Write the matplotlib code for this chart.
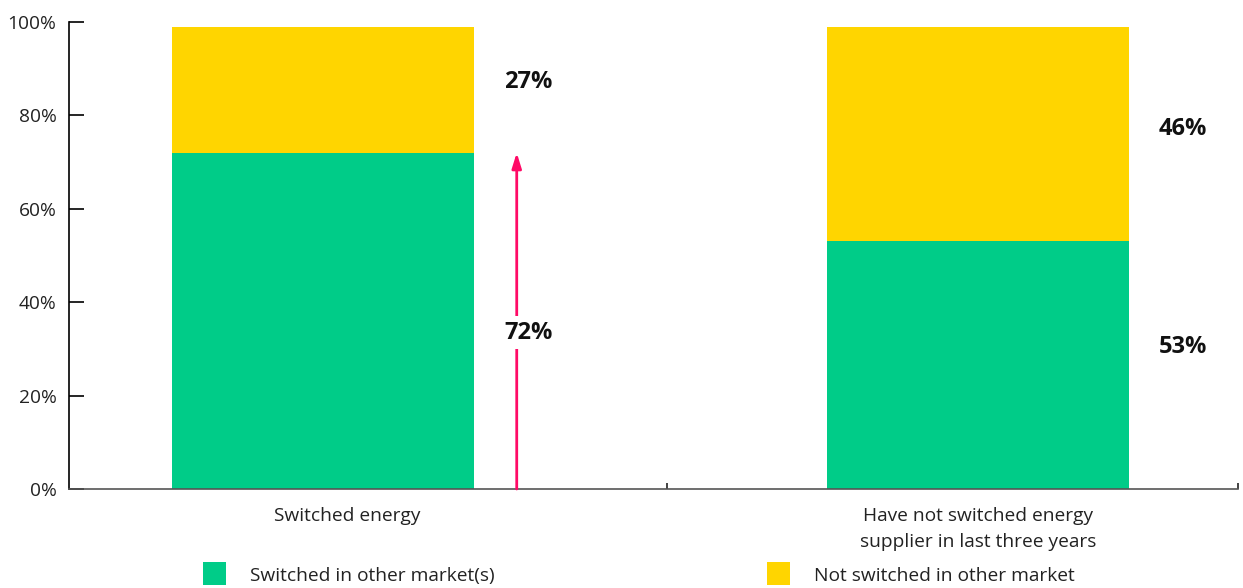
import matplotlib
matplotlib.use("Agg")
import matplotlib.pyplot as plt

categories = ["Switched energy", "Have not switched energy\nsupplier in last three years"]
switched_other = [72, 53]
not_switched_other = [27, 46]
series_names = ["Switched in other market(s)", "Not switched in other market"]
yticks = [0, 20, 40, 60, 80, 100]
ytick_labels = ["0%", "20%", "40%", "60%", "80%", "100%"]

GREEN = "#00CC88"
YELLOW = "#FFD500"
PINK = "#FF0A66"
series_colors = [GREEN, YELLOW]

plt.rcParams["font.family"] = ["Open Sans", "DejaVu Sans"]

W, H = 1243, 588
fig = plt.figure(figsize=(W / 100, H / 100), dpi=100)
ax = fig.add_axes([69 / W, (H - 489) / H, (1238 - 69) / W, (489 - 22) / H])

# bar centres and width in axis units (x range 0..2)
centers = [0.4346, 1.555]
width = 0.5167
ax.bar(centers, switched_other, width=width, color=GREEN, zorder=2)
ax.bar(centers, not_switched_other, width=width, bottom=switched_other, color=YELLOW, zorder=2)

ax.set_xlim(0, 2)
ax.set_ylim(0, 100)

ax.set_yticks(yticks)
ax.set_yticklabels(ytick_labels, fontsize=13.8, color="#222222")
ax.tick_params(axis="y", direction="in", length=11, width=1.2, pad=9, color="black")

ax.set_xticks([1.023, 2.0])
ax.set_xticklabels([])
ax.tick_params(axis="x", direction="in", length=4, width=1.2, color="#222222")

for side in ["top", "right"]:
    ax.spines[side].set_visible(False)
ax.spines["left"].set_color("black")
ax.spines["left"].set_linewidth(1.2)
ax.spines["bottom"].set_color("#555555")
ax.spines["bottom"].set_linewidth(1.2)

# category labels under the axis
label_x = [0.476, 1.555]
for x, name in zip(label_x, categories):
    ax.text(x, -3.8, name, ha="center", va="top", fontsize=13.8, color="#222222",
            linespacing=1.6, transform=ax.transData)

# value labels to the right of each bar
lab_x = [0.786, 1.906]
label_y_top = [87.2, 77.1]
label_y_bottom = [33.5, 30.5]
for i in range(2):
    ax.text(lab_x[i], label_y_top[i], f"{not_switched_other[i]}%", ha="center", va="center",
            fontsize=17, fontweight="bold", color="#111111", zorder=5)

# arrow marking the switched share of the first bar
arrow_x = 0.766
ax.annotate("", xy=(arrow_x, switched_other[0]), xytext=(arrow_x, 0),
            arrowprops=dict(arrowstyle="-|>,head_length=0.9,head_width=0.28",
                            color=PINK, lw=2, shrinkA=0, shrinkB=0), zorder=3)
ax.text(lab_x[0], label_y_bottom[0], f"{switched_other[0]}%", ha="center", va="center",
        fontsize=17, fontweight="bold", color="#111111", zorder=5,
        bbox=dict(facecolor="white", edgecolor="none", pad=3))
ax.text(lab_x[1], label_y_bottom[1], f"{switched_other[1]}%", ha="center", va="center",
        fontsize=17, fontweight="bold", color="#111111", zorder=5)

# legend
leg_pos = [203, 767]
for px, color, name in zip(leg_pos, series_colors, series_names):
    fig.patches.append(plt.Rectangle((px / W, (H - 585) / H), 23 / W, 23 / H,
                                     transform=fig.transFigure, facecolor=color,
                                     edgecolor="none"))
    fig.text((px + 47) / W, (H - 576) / H, name, ha="left", va="center",
             fontsize=13.8, color="#222222")

fig.savefig("out.png", dpi=100)
